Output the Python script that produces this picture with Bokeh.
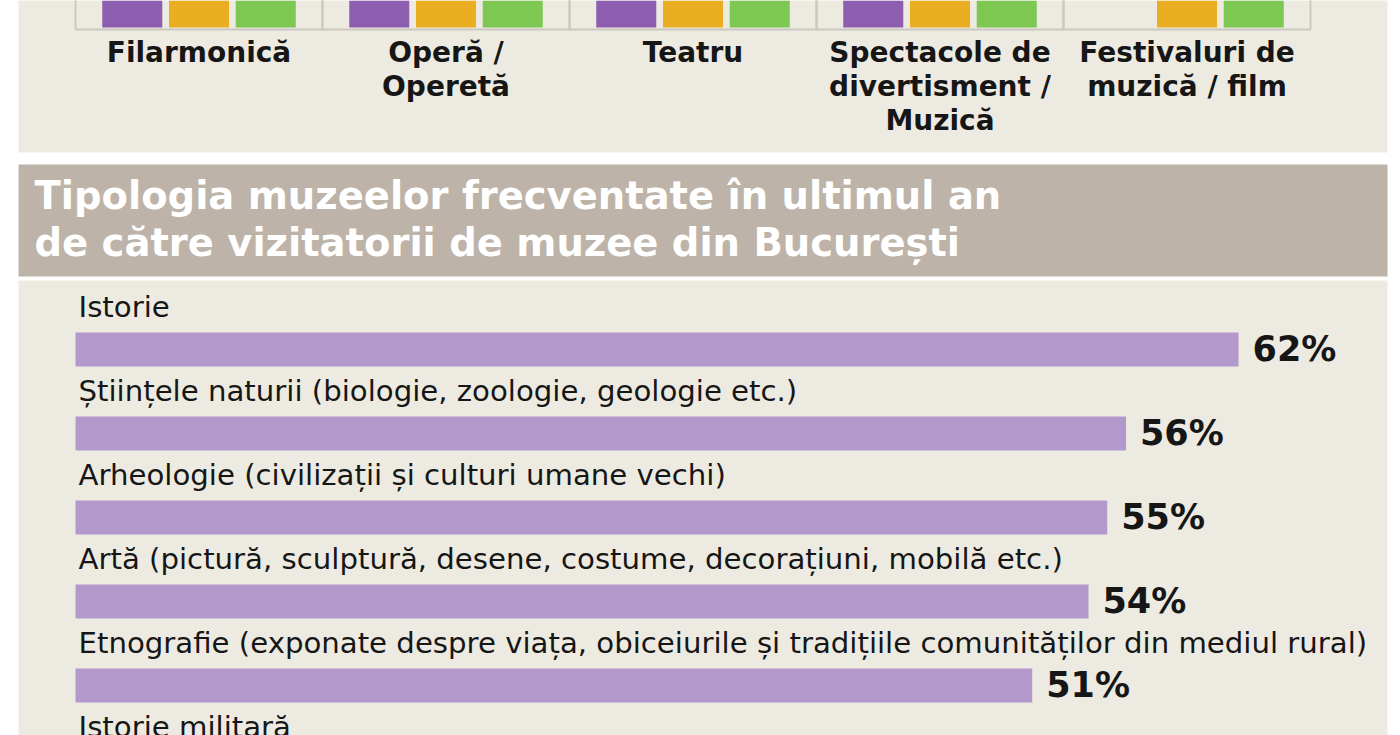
from bokeh.plotting import figure
from bokeh.models import ColumnDataSource, Range1d
from bokeh.layouts import column
from bokeh.core.properties import value
from bokeh.embed import file_html
from bokeh.resources import INLINE

# ---------------- data ----------------
# top panel (bars are cut off at the top of the source picture; values estimated)
venue_groups = ["Filarmonică", "Operă /\nOperetă", "Teatru",
                "Spectacole de\ndivertisment /\nMuzică", "Festivaluri de\nmuzică / film"]
series_purple = [24, 21, 38, 34, 0]
series_orange = [19, 17, 33, 30, 22]
series_green = [21, 18, 36, 32, 25]

# museum types
title_lines = ["Tipologia muzeelor frecventate în ultimul an",
               "de către vizitatorii de muzee din București"]
museum_types = ["Istorie",
                "Științele naturii (biologie, zoologie, geologie etc.)",
                "Arheologie (civilizații și culturi umane vechi)",
                "Artă (pictură, sculptură, desene, costume, decorațiuni, mobilă etc.)",
                "Etnografie (exponate despre viața, obiceiurile și tradițiile comunităților din mediul rural)",
                "Istorie militară"]
museum_pct = [62, 56, 55, 54, 51, 45]

# ---------------- styles ----------------
PANEL = "#EDEBE1"
BAND = "#BDB3A8"
PURPLE = "#8D5DB0"
ORANGE = "#EBAE23"
GREEN = "#7DC852"
LAVENDER = "#B298CB"
FRAME = "#CBC8C0"
INK = "#161616"
FONT = value("DejaVu Sans")
W = 1400


def base_fig(h, xr, yr, bottom_border):
    p = figure(width=W, height=h, x_range=xr, y_range=yr,
               output_backend="svg", toolbar_location=None,
               min_border_left=18, min_border_right=13,
               min_border_top=0, min_border_bottom=bottom_border)
    p.axis.visible = False
    p.grid.visible = False
    p.outline_line_color = None
    p.background_fill_color = PANEL
    p.border_fill_color = "white"
    return p


# ---------------- top panel ----------------
p1 = base_fig(164, Range1d(-0.7308, 4.8117), Range1d(-31.25, 6.75), 12)

offsets = [-0.2702, 0.0, 0.2702]
colors = [PURPLE, ORANGE, GREEN]
bx, btop, bcol = [], [], []
for gi in range(len(venue_groups)):
    for si, ser in enumerate([series_purple, series_orange, series_green]):
        bx.append(gi + offsets[si])
        btop.append(ser[gi])
        bcol.append(colors[si])

p1.quad(left=[gi - 0.5 for gi in range(len(venue_groups))],
        right=[gi + 0.5 for gi in range(len(venue_groups))],
        bottom=-0.5, top=200, fill_color=None, line_color=FRAME, line_width=2)
p1.vbar(source=ColumnDataSource(dict(x=bx, top=btop, color=bcol)),
        x="x", top="top", bottom=0, width=0.243, fill_color="color", line_color=None)

lx, ly, lt, loff = [], [], [], []
for gi, lab in enumerate(venue_groups):
    for li, line in enumerate(lab.split("\n")):
        lx.append(gi)
        ly.append(0)
        lt.append(line)
        loff.append(25 + 34 * li)
p1.text(source=ColumnDataSource(dict(x=lx, y=ly, text=lt, yo=loff)),
        x="x", y="y", text="text", y_offset="yo",
        text_font=FONT, text_font_style="bold", text_font_size="28px",
        text_color=INK, text_align="center", text_baseline="alphabetic")

# ---------------- title band ----------------
p2 = base_fig(116, Range1d(0, 1), Range1d(1.468, -0.915), 4)
p2.background_fill_color = BAND
p2.text(x=[0] * len(title_lines), y=list(range(len(title_lines))), text=title_lines,
        x_offset=16, y_offset=-12, text_font=FONT, text_font_style="bold",
        text_font_size="38.5px", text_color="white", text_align="left",
        text_baseline="alphabetic")

# ---------------- museum bars ----------------
p3 = base_fig(455, Range1d(-3.04, 69.94), Range1d(4.596, -0.821), 0)
rows = list(range(len(museum_types)))
src = ColumnDataSource(dict(y=rows, v=museum_pct, name=museum_types,
                            pct=[f"{v}%" for v in museum_pct]))
p3.hbar(source=src, y="y", right="v", left=0, height=0.405,
        fill_color=LAVENDER, line_color=None)
p3.text(source=src, x=0, y="y", text="name", x_offset=3, y_offset=-42,
        text_font=FONT, text_font_size="29.2px", text_color=INK,
        text_align="left", text_baseline="alphabetic")
p3.text(source=src, x="v", y="y", text="pct", x_offset=14, y_offset=0,
        text_font=FONT, text_font_style="bold", text_font_size="35px",
        text_color=INK, text_align="left", text_baseline="alphabetic")

layout = column(p1, p2, p3, spacing=0)
open("out.html", "w").write(file_html(layout, INLINE))
